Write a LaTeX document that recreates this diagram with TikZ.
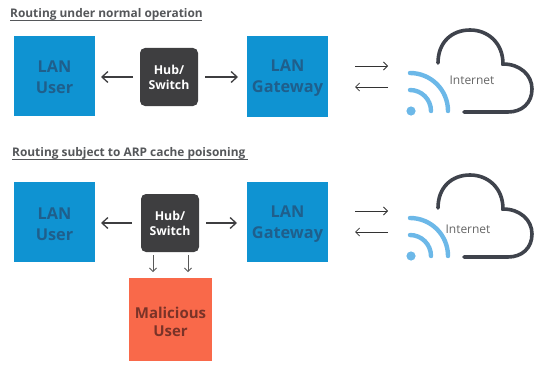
\documentclass[tikz,border=0pt]{standalone}
\usepackage{fontspec}
\setmainfont{Open Sans}
\usetikzlibrary{arrows.meta}
\definecolor{lanblue}{HTML}{0F93D2}
\definecolor{lantext}{HTML}{1F5F8C}
\definecolor{hubdark}{HTML}{3E3E40}
\definecolor{malred}{HTML}{F9694A}
\definecolor{maltext}{HTML}{7A3328}
\definecolor{wifiblue}{HTML}{6CB8E8}
\definecolor{cloudline}{HTML}{3F434C}
\definecolor{titlegrey}{HTML}{55575A}
\tikzset{
  lanbox/.style={fill=lanblue,minimum width=81pt,minimum height=80pt,inner sep=0pt},
  lanlabel/.style={inner sep=0pt,align=center,text=lantext,font=\fontsize{16.3}{21}\selectfont\bfseries},
  hubbox/.style={fill=hubdark,rounded corners=5pt,minimum width=58pt,minimum height=58pt,inner sep=0pt,align=center,text=white,font=\fontsize{12.3}{15}\selectfont\bfseries},
  malbox/.style={fill=malred,minimum width=83pt,minimum height=83pt,inner sep=0pt},
  mallabel/.style={inner sep=0pt,align=center,text=maltext,font=\fontsize{15}{17.5}\selectfont\bfseries},
  bigarrow/.style={draw=hubdark,line width=1.3pt,-{Straight Barb[length=6pt,width=11pt]}},
  thinarrow/.style={draw=black!80,line width=.8pt,-{Straight Barb[length=4pt,width=8pt]}},
  smallarrow/.style={draw=black!65,line width=.8pt,-{Straight Barb[length=3.5pt,width=7pt]}},
  titletext/.style={anchor=west,inner sep=0pt,text=titlegrey,font=\fontsize{11.9}{13}\selectfont\bfseries},
  titlerule/.style={draw=titlegrey,line width=.8pt},
  cloudstroke/.style={draw=cloudline,line width=3.6pt,line cap=round},
  wifistroke/.style={draw=wifiblue,line width=4.4pt,line cap=round},
  nettext/.style={inner sep=0pt,text=black!60,font=\fontsize{12}{14}\selectfont}
}
\newcommand{\netcloud}[4]{%
  \begin{scope}[shift={(0,#1)}]
    \draw[cloudstroke] (438,63) .. controls (438,42) and (452,30) .. (470,30)
      .. controls (488,30) and (503,43) .. (503,64)
      .. controls (520,64) and (532,75) .. (532,89)
      .. controls (532,103) and (522,112) .. (508,112) -- (464,112);
    \draw[wifistroke] (410,73) arc[start angle=-90,end angle=0,radius=38];
    \draw[wifistroke] (410,90) arc[start angle=-90,end angle=0,radius=21];
    \fill[wifiblue] (411,111) circle[radius=4.6];
    \node[nettext] (#2) at (#3,#4) {Internet};
  \end{scope}}
\begin{document}
\begin{tikzpicture}[x=1pt,y=-1pt]
\useasboundingbox (0,0) rectangle (540,369);
% Top diagram
\node[titletext] (t1) at (10,14) {Routing under normal operation};
\coordinate (t1a) at (10,20.5); \coordinate (t1b) at (202,20.5);
\draw[titlerule] (t1a) -- (t1b);
\node[lanbox] (u1) at (54.5,76) {};
\node[lanlabel] (ul1) at (54.5,77) {LAN\\User};
\node[hubbox] (h1) at (169,77) {Hub/\\Switch};
\node[lanbox] (g1) at (287.5,76.5) {};
\node[lanlabel] (gl1) at (287.5,78.5) {LAN\\Gateway};
\coordinate (a1) at (101,77); \coordinate (a2) at (133,77);
\coordinate (a3) at (205,77); \coordinate (a4) at (238,77);
\draw[bigarrow] (a2) -- (a1);
\draw[bigarrow] (a3) -- (a4);
\coordinate (b1) at (355,66); \coordinate (b2) at (388,66);
\coordinate (b3) at (388,87); \coordinate (b4) at (355,87);
\draw[thinarrow] (b1) -- (b2);
\draw[thinarrow] (b3) -- (b4);
\netcloud{0}{i1}{472}{80}
% Bottom diagram
\node[titletext] (t2) at (12,153) {Routing subject to ARP cache poisoning};
\coordinate (t2a) at (12,159.5); \coordinate (t2b) at (248,159.5);
\draw[titlerule] (t2a) -- (t2b);
\node[lanbox] (u2) at (54.5,221.5) {};
\node[lanlabel] (ul2) at (54.5,224) {LAN\\User};
\node[hubbox] (h2) at (170,223) {Hub/\\Switch};
\node[lanbox] (g2) at (287.5,221.5) {};
\node[lanlabel] (gl2) at (287.5,224) {LAN\\Gateway};
\node[malbox] (m) at (170.5,319.5) {};
\node[mallabel] (ml) at (170.5,322) {Malicious\\User};
\coordinate (c1) at (101,223); \coordinate (c2) at (132,223);
\coordinate (c3) at (206,223); \coordinate (c4) at (237,223);
\draw[bigarrow] (c2) -- (c1);
\draw[bigarrow] (c3) -- (c4);
\coordinate (d1) at (355,211); \coordinate (d2) at (388,211);
\coordinate (d3) at (388,232); \coordinate (d4) at (355,232);
\draw[thinarrow] (d1) -- (d2);
\draw[thinarrow] (d3) -- (d4);
\coordinate (e1) at (153,255); \coordinate (e2) at (153,272);
\coordinate (e3) at (188,255); \coordinate (e4) at (188,272);
\draw[smallarrow] (e1) -- (e2);
\draw[smallarrow] (e3) -- (e4);
\netcloud{145}{i2}{468}{84}
\end{tikzpicture}
\end{document}
